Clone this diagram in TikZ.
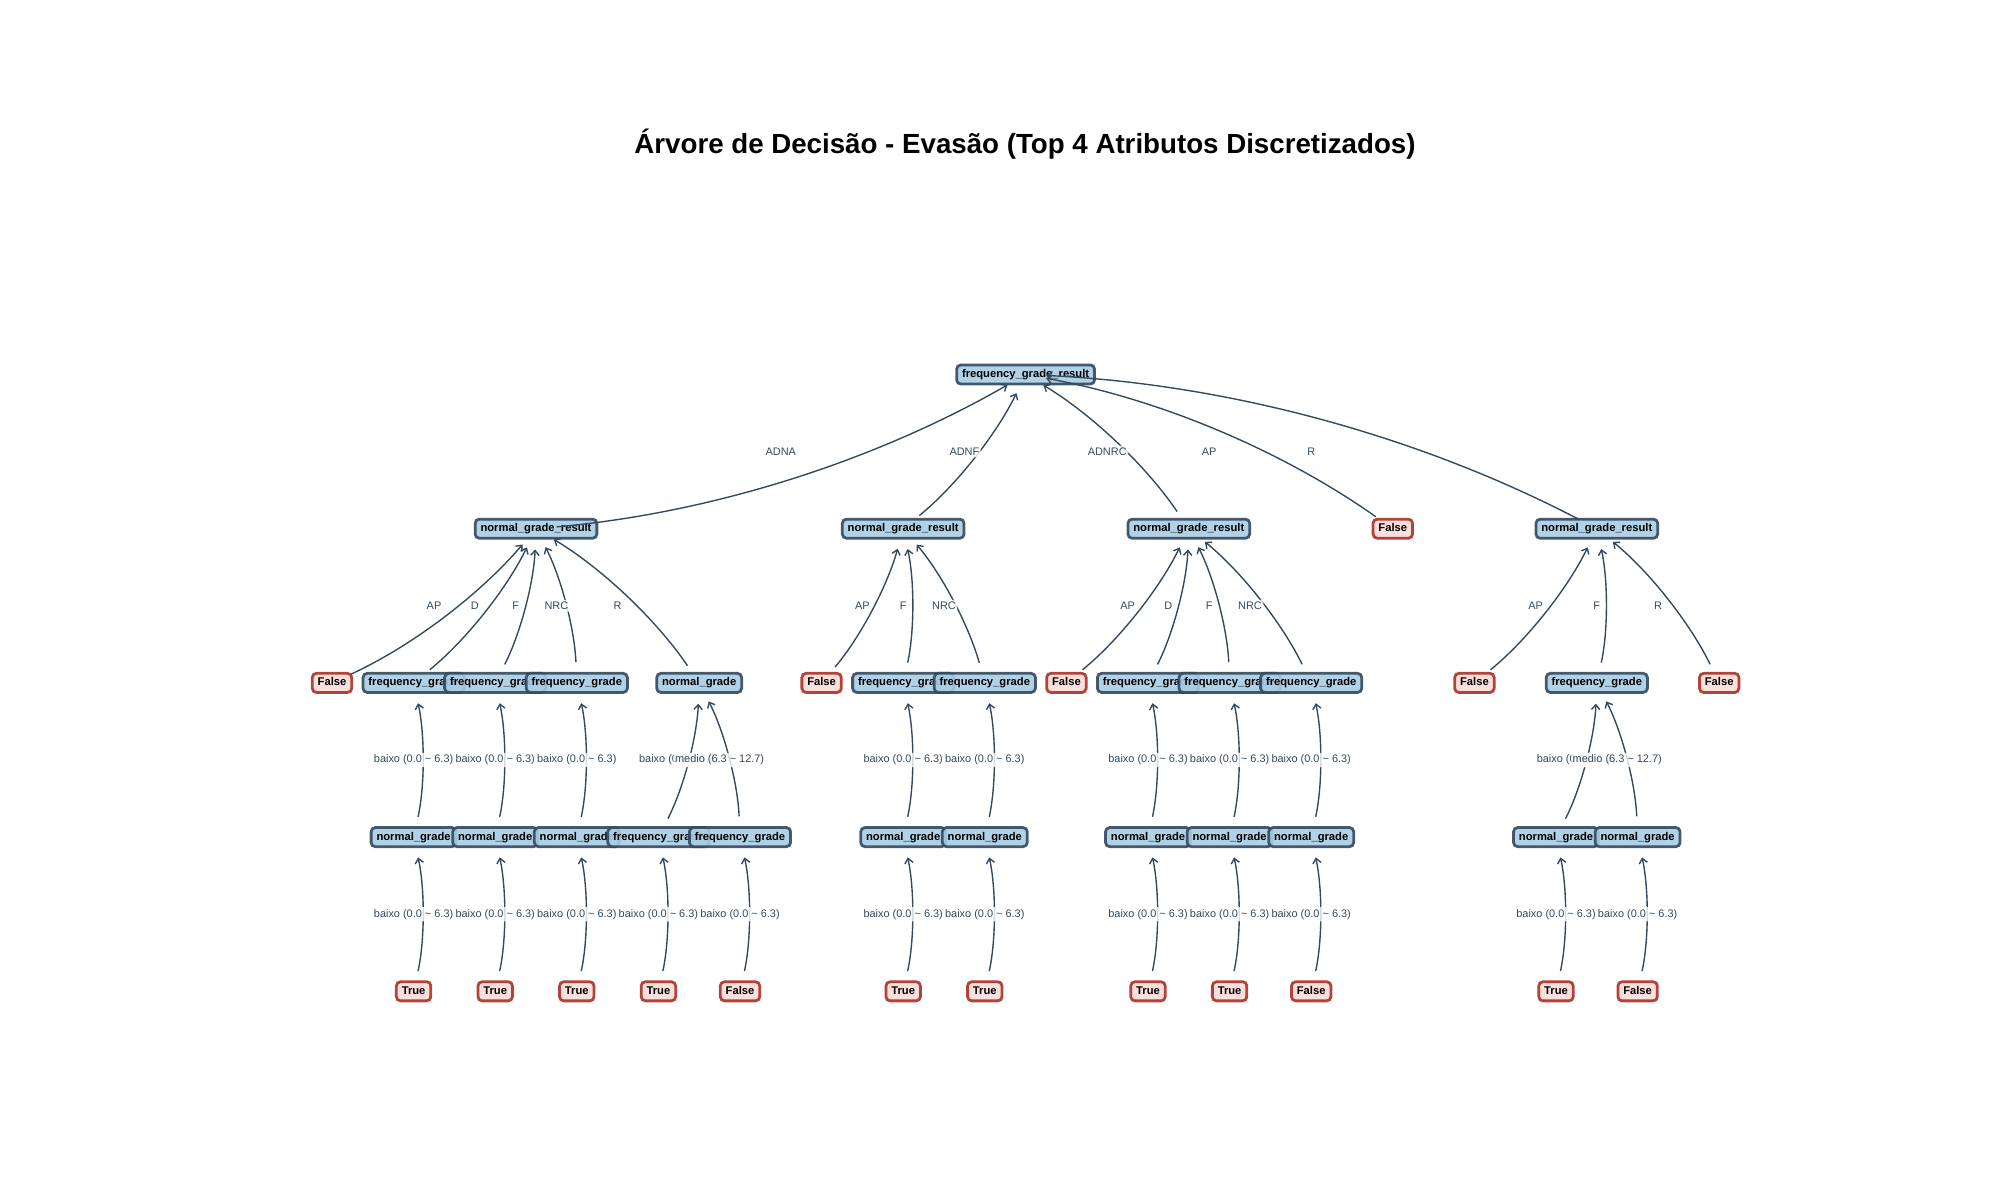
\documentclass[tikz,border=0pt]{standalone}
\usepackage{fontspec}
\setmainfont{Liberation Sans}
\usetikzlibrary{calc,arrows.meta}
\definecolor{nblue}{HTML}{A9CCE3}
\definecolor{nborder}{HTML}{34495E}
\definecolor{rfill}{HTML}{FADBD8}
\definecolor{rborder}{HTML}{A93226}
\definecolor{ecol}{HTML}{34495E}
\pgfdeclarelayer{fg}
\pgfsetlayers{main,fg}
% child, parent, label text, label node name
\newcommand{\tedge}[4]{%
  \coordinate (#4m) at ($(#1)!0.5!(#2)$);
  \coordinate (#4c) at ($(#4m)!0.22!-90:(#2)$);
  \draw[conn] (#1.center) .. controls ($(#1)!2/3!(#4c)$) and ($(#2)!2/3!(#4c)$) .. (#2.center);
  \begin{pgfonlayer}{fg}\node[elab] (#4) at (#4m) {#3};\end{pgfonlayer}%
}
\begin{document}
\begin{tikzpicture}[x=0.01in,y=-0.01in,
  box/.style={rounded corners=3pt, line width=2pt, fill opacity=0.9, draw opacity=0.9, text opacity=1,
    inner xsep=3.9pt, inner ysep=0pt, minimum height=13.8pt, text height=5.9pt, text depth=1.7pt,
    font=\fontsize{8.1}{9.5}\selectfont\bfseries},
  feat/.style={box, draw=nborder, fill=nblue},
  leaf/.style={box, draw=rborder, fill=rfill},
  conn/.style={draw=ecol, line width=1pt, -{Straight Barb[length=3.5pt,width=6pt]}, shorten <=15pt, shorten >=15pt},
  elab/.style={fill=white, fill opacity=0.8, text opacity=1, text=ecol, inner xsep=1pt, inner ysep=1.5pt,
    rounded corners=1pt, font=\fontsize{7.9}{9}\selectfont}
]
\useasboundingbox (0,0) rectangle (2000,1200);
\node[font=\fontsize{20}{24}\selectfont\bfseries, anchor=base] (title) at (1025,153)
  {Árvore de Decisão - Evasão (Top 4 Atributos Discretizados)};

% level 0
\node[feat] (r) at (1025.6,374.5) {frequency\_grade\_result};
% level 1
\node[feat] (a) at (536,528.7) {normal\_grade\_result};
\node[feat] (b) at (903.2,528.7) {normal\_grade\_result};
\node[feat] (c) at (1188.8,528.7) {normal\_grade\_result};
\node[leaf] (d) at (1392.8,528.7) {False};
\node[feat] (e) at (1596.8,528.7) {normal\_grade\_result};
% level 2
\node[leaf] (a0) at (332,682.9) {False};
\node[feat] (a1) at (413.6,682.9) {frequency\_grade};
\node[feat] (a2) at (495.2,682.9) {frequency\_grade};
\node[feat] (a3) at (576.8,682.9) {frequency\_grade};
\node[feat] (a4) at (699.2,682.9) {normal\_grade};
\node[leaf] (b0) at (821.6,682.9) {False};
\node[feat] (b1) at (903.2,682.9) {frequency\_grade};
\node[feat] (b2) at (984.8,682.9) {frequency\_grade};
\node[leaf] (c0) at (1066.4,682.9) {False};
\node[feat] (c1) at (1148,682.9) {frequency\_grade};
\node[feat] (c2) at (1229.6,682.9) {frequency\_grade};
\node[feat] (c3) at (1311.2,682.9) {frequency\_grade};
\node[leaf] (e0) at (1474.4,682.9) {False};
\node[feat] (e1) at (1596.8,682.9) {frequency\_grade};
\node[leaf] (e2) at (1719.2,682.9) {False};
% level 3
\node[feat] (a1n) at (413.6,837.1) {normal\_grade};
\node[feat] (a2n) at (495.2,837.1) {normal\_grade};
\node[feat] (a3n) at (576.8,837.1) {normal\_grade};
\node[feat] (a4f) at (658.4,837.1) {frequency\_grade};
\node[feat] (a5f) at (740,837.1) {frequency\_grade};
\node[feat] (b1n) at (903.2,837.1) {normal\_grade};
\node[feat] (b2n) at (984.8,837.1) {normal\_grade};
\node[feat] (c1n) at (1148,837.1) {normal\_grade};
\node[feat] (c2n) at (1229.6,837.1) {normal\_grade};
\node[feat] (c3n) at (1311.2,837.1) {normal\_grade};
\node[feat] (e1n) at (1556,837.1) {normal\_grade};
\node[feat] (e2n) at (1637.6,837.1) {normal\_grade};
% level 4
\node[leaf] (t1) at (413.6,991.3) {True};
\node[leaf] (t2) at (495.2,991.3) {True};
\node[leaf] (t3) at (576.8,991.3) {True};
\node[leaf] (t4) at (658.4,991.3) {True};
\node[leaf] (t5) at (740,991.3) {False};
\node[leaf] (t6) at (903.2,991.3) {True};
\node[leaf] (t7) at (984.8,991.3) {True};
\node[leaf] (t8) at (1148,991.3) {True};
\node[leaf] (t9) at (1229.6,991.3) {True};
\node[leaf] (t10) at (1311.2,991.3) {False};
\node[leaf] (t11) at (1556,991.3) {True};
\node[leaf] (t12) at (1637.6,991.3) {False};

% edges (child -> parent)
\tedge{a}{r}{ADNA}{la}
\tedge{b}{r}{ADNF}{lb}
\tedge{c}{r}{ADNRC}{lc}
\tedge{d}{r}{AP}{ld}
\tedge{e}{r}{R}{le}

\tedge{a0}{a}{AP}{la0}
\tedge{a1}{a}{D}{la1}
\tedge{a2}{a}{F}{la2}
\tedge{a3}{a}{NRC}{la3}
\tedge{a4}{a}{R}{la4}
\tedge{b0}{b}{AP}{lb0}
\tedge{b1}{b}{F}{lb1}
\tedge{b2}{b}{NRC}{lb2}
\tedge{c0}{c}{AP}{lc0}
\tedge{c1}{c}{D}{lc1}
\tedge{c2}{c}{F}{lc2}
\tedge{c3}{c}{NRC}{lc3}
\tedge{e0}{e}{AP}{le0}
\tedge{e1}{e}{F}{le1}
\tedge{e2}{e}{R}{le2}

\tedge{a1n}{a1}{baixo (0.0 \textasciitilde{} 6.3)}{lx1}
\tedge{a2n}{a2}{baixo (0.0 \textasciitilde{} 6.3)}{lx2}
\tedge{a3n}{a3}{baixo (0.0 \textasciitilde{} 6.3)}{lx3}
\tedge{a4f}{a4}{baixo (0.0 \textasciitilde{} 6.3)}{lx4}
\tedge{a5f}{a4}{medio (6.3 \textasciitilde{} 12.7)}{lx5}
\tedge{b1n}{b1}{baixo (0.0 \textasciitilde{} 6.3)}{lx6}
\tedge{b2n}{b2}{baixo (0.0 \textasciitilde{} 6.3)}{lx7}
\tedge{c1n}{c1}{baixo (0.0 \textasciitilde{} 6.3)}{lx8}
\tedge{c2n}{c2}{baixo (0.0 \textasciitilde{} 6.3)}{lx9}
\tedge{c3n}{c3}{baixo (0.0 \textasciitilde{} 6.3)}{lx10}
\tedge{e1n}{e1}{baixo (0.0 \textasciitilde{} 6.3)}{lx11}
\tedge{e2n}{e1}{medio (6.3 \textasciitilde{} 12.7)}{lx12}

\tedge{t1}{a1n}{baixo (0.0 \textasciitilde{} 6.3)}{ly1}
\tedge{t2}{a2n}{baixo (0.0 \textasciitilde{} 6.3)}{ly2}
\tedge{t3}{a3n}{baixo (0.0 \textasciitilde{} 6.3)}{ly3}
\tedge{t4}{a4f}{baixo (0.0 \textasciitilde{} 6.3)}{ly4}
\tedge{t5}{a5f}{baixo (0.0 \textasciitilde{} 6.3)}{ly5}
\tedge{t6}{b1n}{baixo (0.0 \textasciitilde{} 6.3)}{ly6}
\tedge{t7}{b2n}{baixo (0.0 \textasciitilde{} 6.3)}{ly7}
\tedge{t8}{c1n}{baixo (0.0 \textasciitilde{} 6.3)}{ly8}
\tedge{t9}{c2n}{baixo (0.0 \textasciitilde{} 6.3)}{ly9}
\tedge{t10}{c3n}{baixo (0.0 \textasciitilde{} 6.3)}{ly10}
\tedge{t11}{e1n}{baixo (0.0 \textasciitilde{} 6.3)}{ly11}
\tedge{t12}{e2n}{baixo (0.0 \textasciitilde{} 6.3)}{ly12}
\end{tikzpicture}
\end{document}
